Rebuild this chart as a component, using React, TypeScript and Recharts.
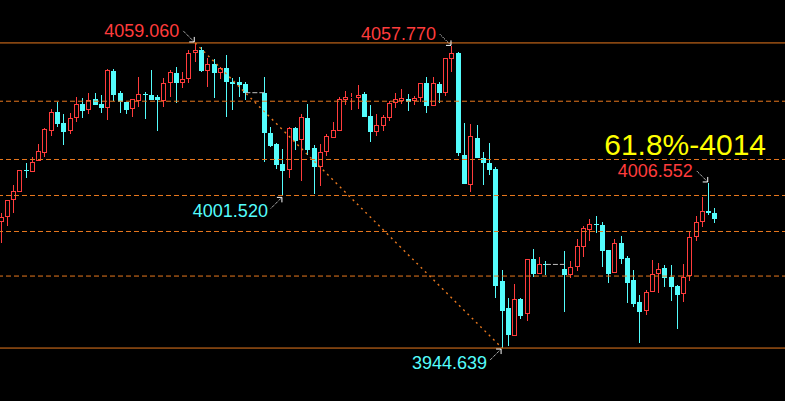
import React from "react";
import { ComposedChart, Bar, XAxis, YAxis, ReferenceLine, ReferenceDot } from "recharts";

// candle values, one entry per bar (1..111)
const opens = [
  3991.9, 3993.9, 4000.3, 4003.3, 4011.3, 4010.6, 4014.7, 4017.9, 4026.2, 4033.2,
  4029.0, 4026.2, 4031.0, 4036.2, 4034.0, 4037.9, 4036.2, 4034.8, 4048.5, 4040.4,
  4036.9, 4034.2, 4037.4, 4040.0, 4039.5, 4038.8, 4037.4, 4044.2, 4047.7, 4044.2,
  4045.4, 4055.2, 4056.4, 4048.6, 4051.2, 4047.9, 4049.5, 4044.5, 4044.5, 4043.7,
  4040.4, 4025.4, 4021.2, 4013.7, 4011.4, 4027.2, 4022.5, 4030.8, 4019.5, 4012.6,
  4018.0, 4023.5, 4026.2, 4037.7, 4038.5, 4038.5, 4039.9, 4031.7, 4025.8, 4028.0,
  4031.0, 4036.4, 4037.3, 4038.0, 4037.4, 4038.3, 4043.9, 4035.5, 4043.7, 4040.4,
  4053.1, 4055.2, 4017.0, 4005.8, 4023.3, 4016.0, 4014.1, 4011.8, 3969.8, 3959.7,
  3949.3, 3963.0, 3957.3, 3978.0, 3972.5, 3976.3, 3974.3, 3972.0, 3975.2, 3982.6,
  3988.9, 3991.2, 3990.8, 3981.4, 3972.9, 3983.9, 3978.3, 3970.2, 3961.8, 3958.6,
  3965.8, 3972.5, 3974.5, 3971.4, 3967.9, 3964.8, 3971.7, 3986.2, 3991.8, 3995.9,
  3995.2,
];
const highs = [
  3995.3, 4000.2, 4005.8, 4011.4, 4013.9, 4016.2, 4021.2, 4027.2, 4034.3, 4036.9,
  4032.4, 4032.8, 4038.7, 4038.3, 4040.3, 4040.3, 4039.5, 4049.3, 4049.3, 4041.2,
  4036.9, 4038.0, 4046.3, 4040.7, 4048.9, 4039.5, 4045.9, 4048.8, 4050.0, 4048.0,
  4056.4, 4059.06, 4057.4, 4053.3, 4052.9, 4050.1, 4054.5, 4045.8, 4046.4, 4044.4,
  4046.4, 4027.4, 4021.6, 4019.3, 4027.4, 4027.6, 4032.4, 4036.0, 4020.8, 4021.2,
  4024.9, 4029.5, 4038.7, 4041.0, 4040.4, 4043.3, 4040.5, 4035.8, 4032.4, 4032.0,
  4037.4, 4040.4, 4041.8, 4039.9, 4039.2, 4043.9, 4046.3, 4046.3, 4044.5, 4053.3,
  4057.77, 4055.8, 4028.9, 4028.7, 4028.3, 4018.3, 4021.6, 4012.6, 3973.9, 3963.4,
  3968.7, 3963.4, 3978.0, 3981.8, 3978.9, 3977.3, 3981.0, 3977.3, 3985.5, 3990.4,
  3993.0, 3994.2, 3991.8, 3981.4, 3985.5, 3986.8, 3979.2, 3973.9, 3964.5, 3966.4,
  3977.7, 3976.4, 3975.8, 3975.8, 3968.3, 3976.0, 3988.5, 3994.3, 4001.2, 4006.552,
  3997.0,
];
const lows = [
  3984.0, 3990.4, 3995.2, 4003.2, 4008.5, 4010.5, 4014.6, 4016.4, 4024.3, 4027.4,
  4020.9, 4024.9, 4029.5, 4031.0, 4032.4, 4035.8, 4032.8, 4030.2, 4037.3, 4032.9,
  4032.4, 4031.4, 4035.2, 4030.5, 4037.7, 4026.2, 4035.2, 4038.9, 4036.6, 4042.3,
  4043.9, 4052.0, 4048.0, 4042.6, 4038.5, 4045.5, 4031.4, 4033.9, 4038.9, 4037.7,
  4014.5, 4019.9, 4011.9, 4001.52, 4008.3, 4018.9, 4007.4, 4017.0, 4002.4, 4005.5,
  4016.8, 4023.5, 4026.1, 4035.8, 4033.9, 4034.2, 4031.4, 4022.0, 4024.2, 4026.1,
  4029.8, 4034.8, 4036.2, 4033.6, 4035.8, 4037.0, 4032.9, 4035.5, 4036.6, 4039.2,
  4048.3, 4016.7, 4006.2, 4003.3, 4016.0, 4005.8, 4009.5, 3963.5, 3944.639, 3945.4,
  3949.3, 3955.5, 3954.9, 3971.4, 3972.5, 3972.1, 3958.3, 3970.8, 3973.6, 3978.7,
  3984.9, 3987.9, 3975.1, 3969.1, 3972.9, 3976.2, 3961.4, 3960.1, 3946.6, 3957.0,
  3965.8, 3965.4, 3967.4, 3962.4, 3951.8, 3962.0, 3969.8, 3984.9, 3989.9, 3994.4,
  3991.6,
];
const closes = [
  3993.8, 4000.0, 4003.4, 4011.4, 4011.0, 4014.3, 4018.4, 4026.8, 4033.0, 4028.7,
  4025.7, 4030.8, 4036.0, 4033.6, 4037.8, 4035.8, 4034.7, 4048.9, 4039.5, 4036.8,
  4033.9, 4037.9, 4039.9, 4039.8, 4037.7, 4037.7, 4043.9, 4048.0, 4043.9, 4045.4,
  4055.2, 4056.3, 4048.6, 4051.0, 4047.9, 4049.5, 4044.5, 4043.7, 4043.3, 4040.4,
  4025.4, 4020.4, 4013.4, 4011.1, 4027.0, 4022.3, 4031.2, 4018.9, 4012.6, 4018.0,
  4024.0, 4026.4, 4037.9, 4038.7, 4038.8, 4039.5, 4031.4, 4025.8, 4028.3, 4031.2,
  4036.6, 4037.9, 4038.3, 4037.0, 4038.4, 4043.9, 4035.5, 4043.9, 4040.4, 4053.3,
  4055.2, 4017.7, 4006.2, 4024.0, 4016.0, 4014.1, 4011.4, 3968.0, 3958.5, 3949.5,
  3963.0, 3956.7, 3978.0, 3972.4, 3976.2, 3976.0, 3972.0, 3974.9, 3982.9, 3989.7,
  3991.2, 3990.9, 3981.1, 3972.5, 3983.9, 3978.1, 3969.1, 3961.3, 3958.3, 3965.8,
  3972.3, 3974.2, 3971.0, 3967.6, 3964.5, 3971.4, 3986.2, 3991.8, 3995.9, 3995.4,
  3993.1,
];

// empty sessions: two blank slots after these bars, then blank space on the right
const gapAfter = [40, 86];
const gapSlots = 2;
const trailingSlots = 11;

const topPrice = 4059.06;
const bottomPrice = 3944.639;
const fibLevels = [4037.2, 4015.35, 4001.85, 3988.35, 3971.64];

const marks = [
  { bar: 32, price: 4059.06, text: "4059.060", side: "top" },
  { bar: 71, price: 4057.77, text: "4057.770", side: "top" },
  { bar: 44, price: 4001.52, text: "4001.520", side: "bottom" },
  { bar: 79, price: 3944.639, text: "3944.639", side: "bottom" },
  { bar: 110, price: 4006.552, text: "4006.552", side: "top" },
];

const RED = "#ff3c3c";
const CYAN = "#54fcfc";
const ORANGE = "#e8781e";
const FONT = "'Liberation Sans', Arial, sans-serif";

function slotOf(bar: number) {
  let s = bar - 1;
  for (const g of gapAfter) if (bar > g) s += gapSlots;
  return s;
}

const totalSlots = slotOf(opens.length) + 1 + trailingSlots;
const rows: any[] = [];
for (let s = 0; s < totalSlots; s++) rows.push({ slot: s, o: null, h: null, l: null, c: null });
opens.forEach((o, i) => {
  const r = rows[slotOf(i + 1)];
  r.o = o;
  r.h = highs[i];
  r.l = lows[i];
  r.c = closes[i];
});

function Candle(props: any) {
  const { x, y, width, height, payload } = props;
  if (!payload || payload.h == null || isNaN(y)) return null;
  const { o, h, l, c } = payload;
  const top = Math.min(y, y + height);
  const k = h === l ? 0 : Math.abs(height) / (h - l);
  const cx = Math.floor(x + width / 2) + 0.5;
  const yH = Math.round(top);
  const yL = Math.round(top + (h - l) * k);
  const yO = Math.round(top + (h - o) * k);
  const yC = Math.round(top + (h - c) * k);
  const bTop = Math.min(yO, yC);
  const bBot = Math.max(yO, yC);
  if (c >= o) {
    return (
      <g>
        <line x1={cx} x2={cx} y1={yH} y2={bTop} stroke={RED} />
        <line x1={cx} x2={cx} y1={bBot} y2={yL} stroke={RED} />
        <rect x={cx - 2} y={bTop + 0.5} width={4} height={Math.max(bBot - bTop - 1, 0)} fill="#000" stroke={RED} />
      </g>
    );
  }
  return (
    <g>
      <line x1={cx} x2={cx} y1={yH} y2={yL} stroke={CYAN} />
      <rect x={cx - 2.5} y={bTop} width={5} height={Math.max(bBot - bTop, 1)} fill={CYAN} />
    </g>
  );
}

function Mark(props: any) {
  const { cx, cy, mark } = props;
  const color = mark.side === "top" ? RED : CYAN;
  if (mark.side === "top") {
    return (
      <g>
        <text x={cx - 16} y={cy - 6} textAnchor="end" fill={color} fontSize={18} fontFamily={FONT}>
          {mark.text}
        </text>
        <line x1={cx - 12} y1={cy - 12} x2={cx - 1} y2={cy - 1} stroke="#fff" strokeDasharray="1 1" />
        <polyline points={`${cx - 6},${cy - 1} ${cx - 1},${cy - 1} ${cx - 1},${cy - 6}`} fill="none" stroke="#fff" />
      </g>
    );
  }
  return (
    <g>
      <text x={cx - 15} y={cy + 21} textAnchor="end" fill={color} fontSize={18} fontFamily={FONT}>
        {mark.text}
      </text>
      <line x1={cx - 12} y1={cy + 12} x2={cx - 1} y2={cy + 1} stroke="#fff" strokeDasharray="1 1" />
      <polyline points={`${cx - 6},${cy + 1} ${cx - 1},${cy + 1} ${cx - 1},${cy + 6}`} fill="none" stroke="#fff" />
    </g>
  );
}

export default function App() {
  return (
    <div style={{ position: "absolute", left: 0, top: 0, width: 785, height: 401, overflow: "hidden", background: "#000" }}>
      <div style={{ position: "absolute", left: -2, top: 0 }}>
        <ComposedChart width={789} height={401} data={rows} margin={{ top: 0, right: 0, bottom: 0, left: 0 }}>
          <XAxis dataKey="slot" hide />
          <YAxis hide domain={[3924.785, 4075.16]} allowDataOverflow />
          <ReferenceLine y={topPrice} stroke={ORANGE} />
          <ReferenceLine y={bottomPrice} stroke={ORANGE} />
          {fibLevels.map((v) => (
            <ReferenceLine
              key={v}
              y={v}
              stroke={ORANGE}
              strokeDasharray="5 3"
              label={
                v === 4015.35
                  ? (p: any) => (
                      <text
                        x={p.viewBox.x + p.viewBox.width - 21}
                        y={p.viewBox.y - 4}
                        textAnchor="end"
                        fill="#ffff00"
                        fontSize={30}
                        fontFamily={FONT}
                      >
                        61.8%-4014
                      </text>
                    )
                  : undefined
              }
            />
          ))}
          <ReferenceLine
            segment={[
              { x: slotOf(32), y: topPrice },
              { x: slotOf(79), y: bottomPrice },
            ]}
            stroke={ORANGE}
            strokeWidth={1.4}
            strokeDasharray="2 4"
          />
          {gapAfter.map((g) => (
            <ReferenceLine
              key={g}
              segment={[
                { x: slotOf(g), y: closes[g - 1] },
                { x: slotOf(g + 1), y: closes[g - 1] },
              ]}
              stroke="#c0c0c0"
              strokeDasharray="5 2"
            />
          ))}
          <Bar
            dataKey={(d: any) => (d.h == null ? null : [d.l, d.h])}
            shape={Candle}
            isAnimationActive={false}
          />
          {marks.map((m) => (
            <ReferenceDot
              key={m.text}
              x={slotOf(m.bar)}
              y={m.price}
              r={0}
              ifOverflow="visible"
              shape={(p: any) => <Mark {...p} mark={m} />}
            />
          ))}
        </ComposedChart>
      </div>
    </div>
  );
}
